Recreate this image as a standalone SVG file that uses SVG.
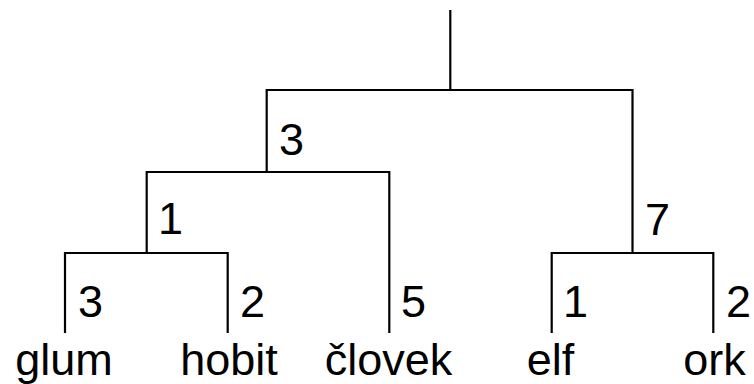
<svg xmlns="http://www.w3.org/2000/svg" width="754" height="384" viewBox="0 0 754 384">
  <style>
    .link { fill: none; stroke: #000; stroke-width: 2.2; stroke-linecap: butt; stroke-linejoin: miter; }
    .leaf { font-family: "Liberation Sans", Arial, sans-serif; font-size: 45px; fill: #000; text-anchor: middle; }
    .dist { font-family: "Liberation Sans", Arial, sans-serif; font-size: 45px; fill: #000; }
  </style>
  <rect width="754" height="384" fill="#fff"/>

  <!-- tree branches -->
  <g id="connectors">
    <path class="link" d="M450.3 10 V90"/>
    <path class="link" d="M266.7 172 V90 H632.5 V253"/>
    <path class="link" d="M146.7 253 V172 H389.3 V333"/>
    <path class="link" d="M65 333 V253 H227.7 V333"/>
    <path class="link" d="M551.7 333 V253 H713.3 V333"/>
  </g>

  <!-- branch lengths -->
  <g id="distances">
    <text class="dist" x="279" y="155">3</text>
    <text class="dist" x="158" y="234">1</text>
    <text class="dist" x="645" y="235">7</text>
    <text class="dist" x="78" y="317">3</text>
    <text class="dist" x="240" y="317">2</text>
    <text class="dist" x="401" y="317">5</text>
    <text class="dist" x="563" y="317">1</text>
    <text class="dist" x="726" y="317">2</text>
  </g>

  <!-- leaves -->
  <g id="glum"><text class="leaf" x="64" y="375">glum</text></g>
  <g id="hobit"><text class="leaf" x="229" y="375">hobit</text></g>
  <g id="clovek"><text class="leaf" x="388.5" y="375">človek</text></g>
  <g id="elf"><text class="leaf" x="550.5" y="375">elf</text></g>
  <g id="ork"><text class="leaf" x="714.5" y="375">ork</text></g>
</svg>
